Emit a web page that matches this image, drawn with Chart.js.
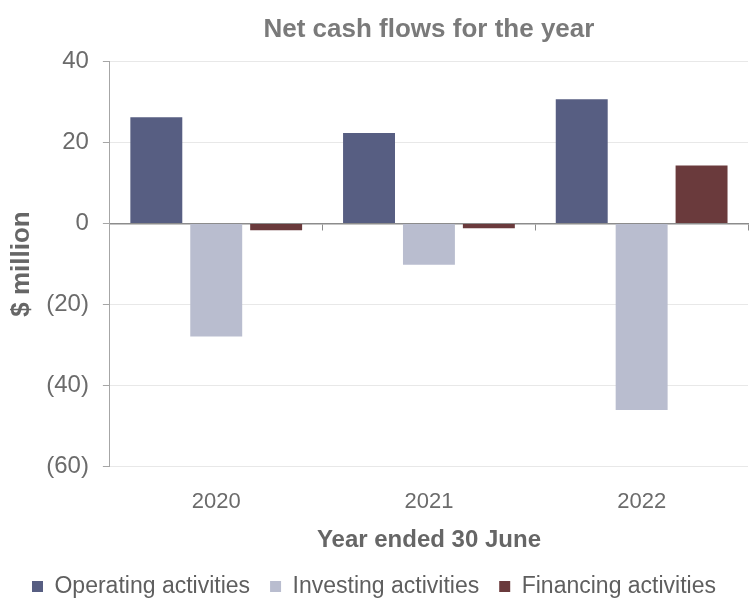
<!DOCTYPE html>
<html>
<head>
<meta charset="utf-8">
<script src="https://cdn.jsdelivr.net/npm/chart.js@4/dist/chart.umd.min.js"></script>
<style>
  html, body { margin: 0; padding: 0; background: #fff; }
  #wrap { width: 755px; height: 601px; position: relative; }
</style>
</head>
<body>
<div id="wrap"><canvas id="cashChart"></canvas></div>
<script>
const years = ["2020", "2021", "2022"];
const operating = [26.2, 22.3, 30.6];
const investing = [-27.9, -10.2, -46.0];
const financing = [-1.7, -1.2, 14.3];
const yTickValues = [-60, -40, -20, 0, 20, 40];
const yTickLabels = ["(60)", "(40)", "(20)", "0", "20", "40"];

const fontFamily = "'Liberation Sans', Arial, sans-serif";

const ctx = document.getElementById("cashChart").getContext("2d");

new Chart(ctx, {
  type: "bar",
  data: {
    labels: years,
    datasets: [
      { label: "Operating activities", data: operating, backgroundColor: "#575e82" },
      { label: "Investing activities", data: investing, backgroundColor: "#b9bdcf" },
      { label: "Financing activities", data: financing, backgroundColor: "#6a3a3c" },
    ],
  },
  options: {
    responsive: true,
    maintainAspectRatio: false,
    animation: false,
    categoryPercentage: 0.845,
    barPercentage: 0.867,
    layout: { padding: { top: 0, right: 7, bottom: -7, left: 0 } },
    plugins: {
      title: {
        display: true,
        fullSize: false,
        text: "Net cash flows for the year",
        color: "#7a7a7a",
        font: { family: fontFamily, size: 26, weight: "bold" },
        padding: { top: 14, bottom: 16 },
      },
      legend: {
        position: "bottom",
        labels: {
          color: "#5f5f5f",
          font: { family: fontFamily, size: 23 },
          boxWidth: 11,
          boxHeight: 11,
          padding: 20,
        },
      },
      tooltip: { enabled: false },
    },
    scales: {
      x: {
        grid: { display: false, drawTicks: false },
        border: { display: false },
        ticks: { color: "#6b6b6b", font: { family: fontFamily, size: 22 }, padding: 22 },
        title: {
          display: true,
          text: "Year ended 30 June",
          color: "#666",
          font: { family: fontFamily, size: 24, weight: "bold" },
          padding: { top: -11, bottom: 0 },
        },
      },
      // zero line with small ticks between the years
      x0: {
        type: "category",
        labels: years,
        position: { y: 0 },
        offset: true,
        grid: {
          drawOnChartArea: false,
          drawTicks: true,
          tickLength: 6,
          tickColor: "#8c8c8c",
          offset: true,
        },
        border: { color: "#8c8c8c", width: 1.5 },
        ticks: { display: false },
      },
      y: {
        min: -60,
        max: 40,
        afterBuildTicks: (axis) => {
          axis.ticks = yTickValues.map((v) => ({ value: v }));
        },
        grid: { color: "#e8e8e8", tickColor: "#a6a6a6", tickLength: 7 },
        border: { color: "#a6a6a6" },
        ticks: {
          color: "#6b6b6b",
          font: { family: fontFamily, size: 24 },
          padding: 14,
          callback: (value) => yTickLabels[yTickValues.indexOf(value)],
        },
        title: {
          display: true,
          text: "$ million",
          color: "#666",
          font: { family: fontFamily, size: 26, weight: "bold" },
          padding: { top: 6, bottom: -5 },
        },
      },
    },
  },
});
</script>
</body>
</html>
